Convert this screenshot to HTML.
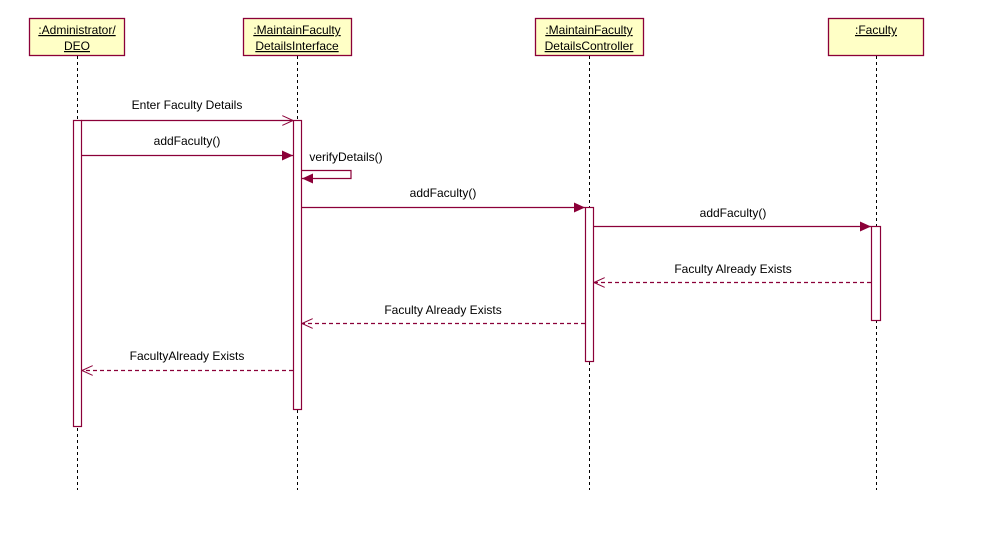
<!DOCTYPE html>
<html><head><style>body{margin:0;background:#fff}svg text{font-family:"Liberation Sans",sans-serif;font-size:12px;fill:#000}</style></head>
<body>
<svg width="993" height="540" xmlns="http://www.w3.org/2000/svg">
<defs>
<marker id="f" markerWidth="12" markerHeight="10" refX="11" refY="5" orient="auto" markerUnits="userSpaceOnUse"><path d="M0,0 L11,5 L0,10 z" fill="#8b0038"/></marker>
<marker id="o" markerWidth="12" markerHeight="10" refX="11" refY="5" orient="auto" markerUnits="userSpaceOnUse"><path d="M0,0 L11,5 L0,10" fill="none" stroke="#8b0038"/></marker>
</defs>
<g fill="#ffffc6" stroke="#8b0038" stroke-width="1.3">
<rect x="29.5" y="18.5" width="95" height="37"/>
<rect x="243.5" y="18.5" width="108" height="37"/>
<rect x="535.5" y="18.5" width="108" height="37"/>
<rect x="828.5" y="18.5" width="95" height="37"/>
</g>
<g text-anchor="middle" text-decoration="underline">
<text x="77" y="34">:Administrator/</text><text x="77" y="50">DEO</text>
<text x="297" y="34">:MaintainFaculty</text><text x="297" y="50">DetailsInterface</text>
<text x="589" y="34">:MaintainFaculty</text><text x="589" y="50">DetailsController</text>
<text x="876" y="34">:Faculty</text>
</g>
<g stroke="#000" stroke-dasharray="3,3">
<line x1="77.5" y1="56" x2="77.5" y2="490"/>
<line x1="297.5" y1="56" x2="297.5" y2="490"/>
<line x1="589.5" y1="56" x2="589.5" y2="490"/>
<line x1="876.5" y1="56" x2="876.5" y2="490"/>
</g>
<g fill="#fff" stroke="#8b0038" stroke-width="1.2">
<rect x="73.5" y="120.5" width="8" height="306"/>
<rect x="293.5" y="120.5" width="8" height="289"/>
<rect x="585.5" y="207.5" width="8" height="154"/>
<rect x="871.5" y="226.5" width="9" height="94"/>
</g>
<g stroke="#8b0038" stroke-width="1.2" fill="none">
<line x1="81" y1="120.5" x2="293" y2="120.5" marker-end="url(#o)"/>
<line x1="81" y1="155.5" x2="293" y2="155.5" marker-end="url(#f)"/>
<polyline points="301,170.5 351,170.5 351,178.5 302,178.5" marker-end="url(#f)"/>
<line x1="301" y1="207.5" x2="585" y2="207.5" marker-end="url(#f)"/>
<line x1="593" y1="226.5" x2="871" y2="226.5" marker-end="url(#f)"/>
<g stroke-dasharray="4,3">
<line x1="871" y1="282.5" x2="594" y2="282.5" marker-end="url(#o)"/>
<line x1="585" y1="323.5" x2="302" y2="323.5" marker-end="url(#o)"/>
<line x1="293" y1="370.5" x2="82" y2="370.5" marker-end="url(#o)"/>
</g>
</g>
<g text-anchor="middle">
<text x="187" y="109">Enter Faculty Details</text>
<text x="187" y="145">addFaculty()</text>
<text x="346" y="161">verifyDetails()</text>
<text x="443" y="197">addFaculty()</text>
<text x="733" y="217">addFaculty()</text>
<text x="733" y="273">Faculty Already Exists</text>
<text x="443" y="314">Faculty Already Exists</text>
<text x="187" y="360">FacultyAlready Exists</text>
</g>
</svg>
</body></html>
